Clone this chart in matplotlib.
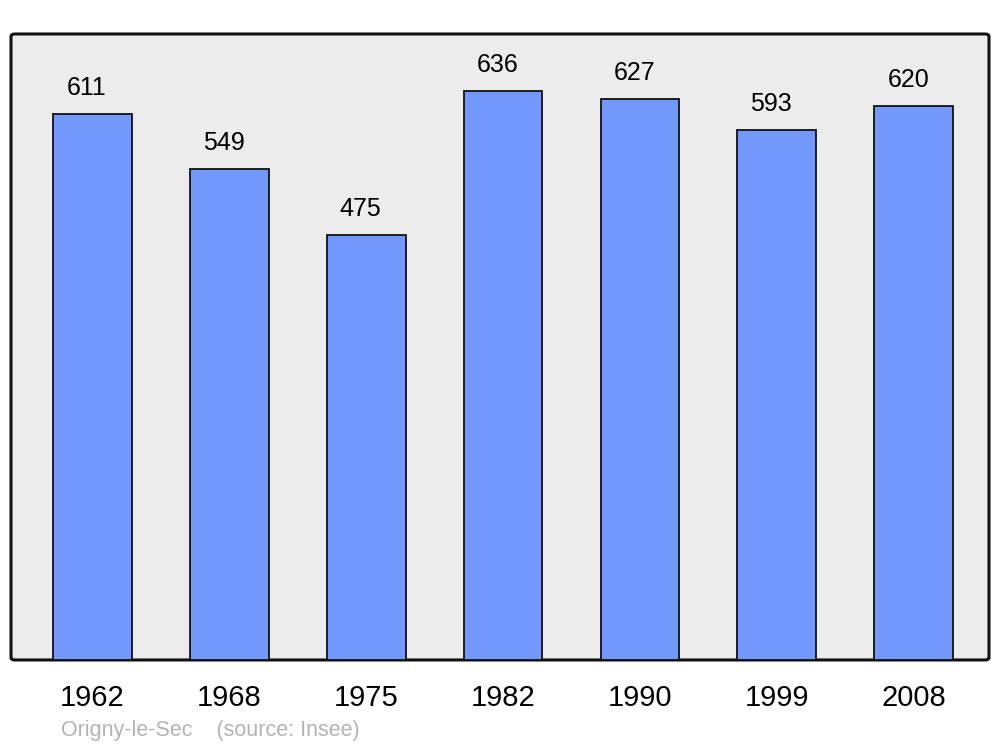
#!/usr/bin/env python
# -*- coding: utf-8 -*-

import matplotlib
matplotlib.use("Agg")
import matplotlib.pyplot as plt
from matplotlib.patches import FancyBboxPatch

# population by census year
years = ["1962", "1968", "1975", "1982", "1990", "1999", "2008"]
population = [611, 549, 475, 636, 627, 593, 620]
caption = "Origny-le-Sec    (source: Insee)"

plt.rcParams['font.family'] = ['Liberation Sans', 'DejaVu Sans']

fig = plt.figure(figsize=(10, 7.47), dpi=100)
ax = fig.add_axes([0.011, 0.1165, 0.978, 0.838])
ax.set_facecolor('none')

# rounded frame behind the bars
frame = FancyBboxPatch((0, 0), 1, 1, boxstyle="round,pad=0,rounding_size=0.004",
                       transform=ax.transAxes, facecolor='#ececec',
                       edgecolor='#111111', linewidth=2.2, zorder=0, clip_on=False)
ax.add_patch(frame)

x = range(len(years))
bars = ax.bar(x, population, width=0.575, color='#7399ff', edgecolor='#111111',
              linewidth=1.3, zorder=2)

for xi, val in zip(x, population):
    ax.annotate(str(val), (xi, val), xytext=(-4, 10), textcoords='offset points',
                ha='center', va='bottom', fontsize=18)

ax.set_xlim(-0.595, 6.55)
ax.set_ylim(0, 700)
ax.set_xticks(list(x))
ax.set_xticklabels(years, fontsize=21)
ax.tick_params(axis='x', length=0, pad=17)
ax.set_yticks([])
for sp in ax.spines.values():
    sp.set_visible(False)

fig.text(0.061, 0.0215, caption, color='#b3b3b3', fontsize=15.5, ha='left', va='center')

fig.savefig('out.png', dpi=100)
